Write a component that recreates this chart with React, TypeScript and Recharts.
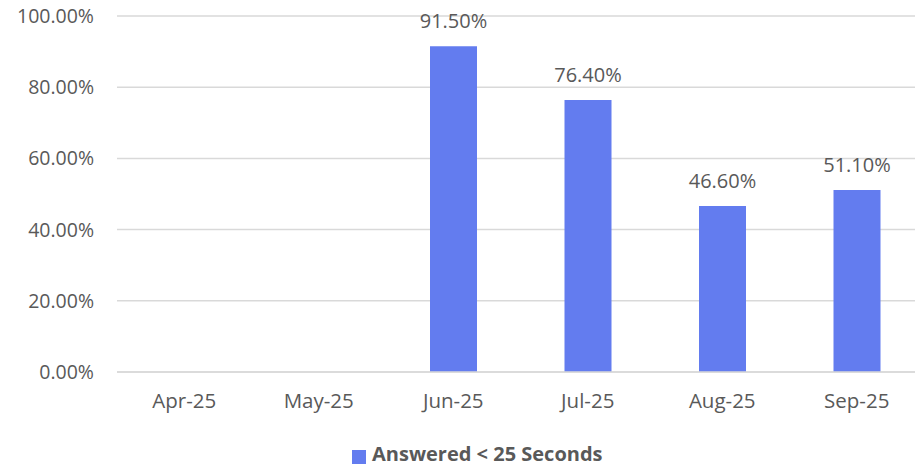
import React from "react";
import {
  BarChart,
  Bar,
  XAxis,
  YAxis,
  CartesianGrid,
  Legend,
  LabelList,
} from "recharts";

const months = ["Apr-25", "May-25", "Jun-25", "Jul-25", "Aug-25", "Sep-25"];
const answeredUnder25 = [null, null, 91.5, 76.4, 46.6, 51.1];
const yTicks = [0, 20, 40, 60, 80, 100];

const data = months.map((month, i) => ({
  month,
  answered: answeredUnder25[i],
}));

const FONT = "'Open Sans', sans-serif";
const TEXT = "#595959";
const BAR = "#637CEF";

const fmt = (v: number) => `${v.toFixed(2)}%`;

export default function App() {
  return (
    <div
      style={{
        position: "absolute",
        left: 0,
        top: 0,
        width: 915,
        height: 466,
        overflow: "hidden",
        background: "#fff",
        fontFamily: FONT,
      }}
    >
      <BarChart
        width={930}
        height={466}
        data={data}
        margin={{ top: 16, right: 6, left: 0, bottom: 0 }}
        barSize={47}
      >
        <CartesianGrid stroke="#D9D9D9" strokeWidth={1.5} vertical={false} />
        <XAxis
          dataKey="month"
          axisLine={{ stroke: "#D9D9D9", strokeWidth: 1.5 }}
          tickLine={false}
          tickSize={0}
          tickMargin={21}
          height={50}
          tick={{ fill: TEXT, fontSize: 20.5, fontFamily: FONT }}
        />
        <YAxis
          domain={[0, 100]}
          ticks={yTicks}
          width={117}
          axisLine={false}
          tickLine={false}
          tickSize={0}
          tickMargin={23}
          tickFormatter={fmt}
          tick={{ fill: TEXT, fontSize: 19.5, fontFamily: FONT }}
        />
        <Legend
          verticalAlign="bottom"
          height={44}
          iconType="square"
          iconSize={14}
          wrapperStyle={{ left: 352, width: "auto", top: 440 }}
          formatter={(value) => (
            <span
              style={{
                color: TEXT,
                fontWeight: 700,
                fontSize: 20,
                fontFamily: FONT,
                marginLeft: 2,
              }}
            >
              {value}
            </span>
          )}
        />
        <Bar
          dataKey="answered"
          name="Answered < 25 Seconds"
          fill={BAR}
          isAnimationActive={false}
        >
          <LabelList
            dataKey="answered"
            position="top"
            offset={18}
            formatter={(v: any) => (v == null ? "" : fmt(Number(v)))}
            style={{ fill: TEXT, fontSize: 20, fontFamily: FONT }}
          />
        </Bar>
      </BarChart>
    </div>
  );
}
